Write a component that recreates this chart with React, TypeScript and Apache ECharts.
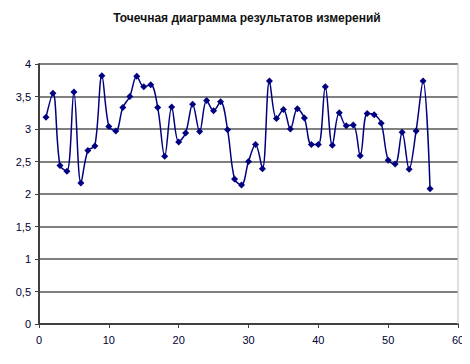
import React, { useEffect, useRef } from "react";
import * as echarts from "echarts";

const titleText = "Точечная диаграмма результатов измерений";
const xValues = [
  1, 2, 3, 4, 5, 6, 7, 8, 9, 10, 11, 12, 13, 14, 15, 16, 17, 18, 19, 20,
  21, 22, 23, 24, 25, 26, 27, 28, 29, 30, 31, 32, 33, 34, 35, 36, 37, 38, 39, 40,
  41, 42, 43, 44, 45, 46, 47, 48, 49, 50, 51, 52, 53, 54, 55, 56,
];
const yValues = [
  3.18, 3.55, 2.44, 2.35, 3.57, 2.17, 2.67, 2.74, 3.82, 3.04, 2.97, 3.33, 3.5, 3.81,
  3.65, 3.68, 3.33, 2.58, 3.34, 2.8, 2.94, 3.38, 2.96, 3.44, 3.28, 3.42, 2.99, 2.23,
  2.14, 2.5, 2.76, 2.39, 3.74, 3.16, 3.3, 3.0, 3.31, 3.17, 2.76, 2.76, 3.65, 2.75,
  3.25, 3.05, 3.06, 2.59, 3.24, 3.22, 3.09, 2.52, 2.46, 2.95, 2.38, 2.97, 3.74, 2.08,
];

export default function App() {
  const ref = useRef<HTMLDivElement>(null);
  useEffect(() => {
    if (!ref.current) return;
    const chart = echarts.init(ref.current, null, { renderer: "svg" });
    const data = xValues.map((x, i) => [x, yValues[i]]);
    chart.setOption({
      animation: false,
      backgroundColor: "#ffffff",
      title: {
        text: titleText,
        left: 242,
        textAlign: "center",
        top: 7,
        textStyle: {
          fontFamily: "Liberation Sans, Arial, sans-serif",
          fontSize: 12,
          fontWeight: "bold",
          color: "#111111",
        },
      },
      grid: { left: 39, right: 12, top: 64, bottom: 40, show: false },
      xAxis: {
        type: "value",
        min: 0,
        max: 60,
        interval: 10,
        axisLine: { show: true, onZero: false, lineStyle: { color: "#404040", width: 2 } },
        axisTick: { show: true, inside: false, length: 4, lineStyle: { color: "#404040", width: 1 } },
        axisLabel: {
          color: "#000033",
          fontFamily: "Liberation Sans, Arial, sans-serif",
          fontSize: 11,
          margin: 10,
        },
        splitLine: { show: false },
      },
      yAxis: {
        type: "value",
        min: 0,
        max: 4,
        interval: 0.5,
        axisLine: { show: true, onZero: false, lineStyle: { color: "#404040", width: 2 } },
        axisTick: { show: true, inside: false, length: 4, lineStyle: { color: "#404040", width: 1 } },
        axisLabel: {
          color: "#000033",
          fontFamily: "Liberation Sans, Arial, sans-serif",
          fontSize: 11,
          margin: 8,
          formatter: (v: number) => String(v).replace(".", ","),
        },
        splitLine: { show: true, lineStyle: { color: "#808080", width: 2 } },
      },
      graphic: [
        {
          type: "line",
          shape: { x1: 458, y1: 64, x2: 458, y2: 324 },
          style: { stroke: "#c0c0c0", lineWidth: 1 },
          z: 1,
        },
      ],
      series: [
        {
          type: "line",
          data,
          smooth: 0.35,
          symbol: "diamond",
          symbolSize: 7,
          lineStyle: { color: "#000080", width: 1.5 },
          itemStyle: { color: "#000080" },
          z: 3,
        },
      ],
    });
    return () => chart.dispose();
  }, []);
  return <div ref={ref} style={{ width: 470, height: 364, margin: -8 }} />;
}
